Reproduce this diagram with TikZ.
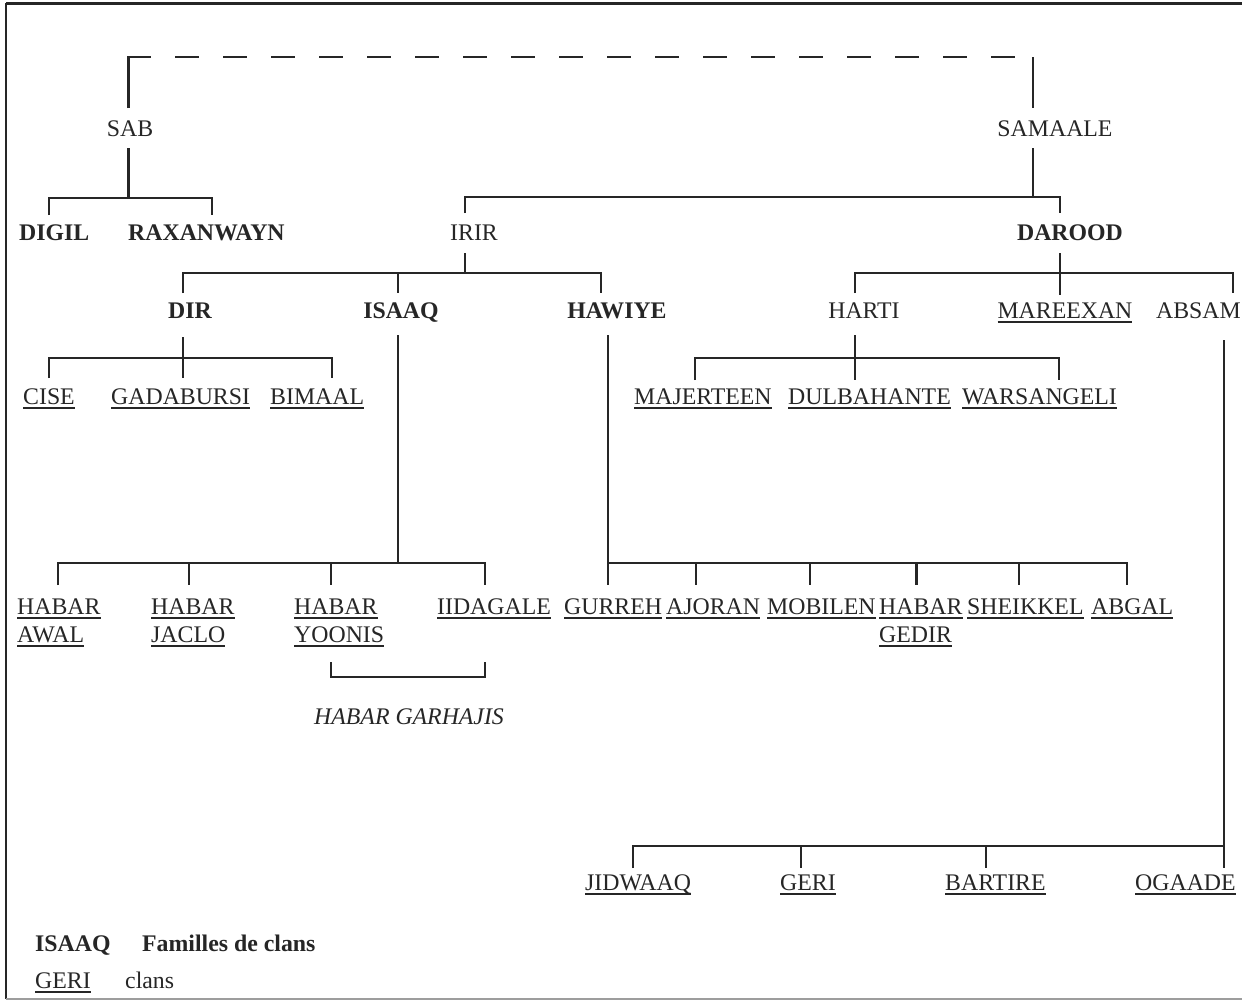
\documentclass[tikz,border=0pt]{standalone}
\usepackage{fontspec}
\setmainfont{Liberation Serif}
\definecolor{ink}{HTML}{262626}
\newcommand{\clanul}[1]{\setbox0\hbox{#1}\rlap{\vrule height -2.6pt depth 4.6pt width \wd0}\box0}
\begin{document}
\begin{tikzpicture}[x=1pt,y=-1pt,
  lbl/.style={inner sep=0pt, text=ink, anchor=base, font=\fontsize{23.8}{28}\selectfont},
  lblw/.style={lbl, anchor=base west},
  lble/.style={lbl, anchor=base east},
  bold/.style={font=\fontsize{23.8}{28}\selectfont\bfseries},
  ital/.style={font=\fontsize{23.8}{28}\selectfont\itshape},
  link/.style={draw=ink, line width=2.3pt},
  dashlink/.style={draw=ink, line width=2.3pt, dash pattern=on 24pt off 24pt},
  frame/.style={draw=ink, line width=2.2pt}]
\useasboundingbox (0,0) rectangle (1242,1002);
\fill[white] (0,0) rectangle (1242,1002);

% frame
\draw[frame, line width=3pt] (6,3) -- (1242,3);
\draw[frame] (6,3) -- (6,999);
\draw[draw=ink!45, line width=1.5pt] (6,999) -- (1242,999);

% ---- labels ----
\node[lbl] (sab) at (130,136) {SAB};
\node[lbl] (samaale) at (1055,136) {SAMAALE};
\node[lblw, bold] (digil) at (19,240) {DIGIL};
\node[lblw, bold] (raxan) at (128,240) {RAXANWAYN};
\node[lbl] (irir) at (474,240) {IRIR};
\node[lbl, bold] (darood) at (1070,240) {DAROOD};
\node[lbl, bold] (dir) at (190,318) {DIR};
\node[lbl, bold] (isaaq) at (401,318) {ISAAQ};
\node[lbl, bold] (hawiye) at (617,318) {HAWIYE};
\node[lbl] (harti) at (864,318) {HARTI};
\node[lbl] (mareexan) at (1065,318) {\clanul{MAREEXAN}};
\node[lble] (absam) at (1241,318) {ABSAM};
\node[lblw] (cise) at (23,404) {\clanul{CISE}};
\node[lblw] (gadab) at (111,404) {\clanul{GADABURSI}};
\node[lblw] (bimaal) at (270,404) {\clanul{BIMAAL}};
\node[lblw] (majer) at (634,404) {\clanul{MAJERTEEN}};
\node[lblw] (dulba) at (788,404) {\clanul{DULBAHANTE}};
\node[lblw] (warsan) at (962,404) {\clanul{WARSANGELI}};

\node[lblw] (hawal) at (17,614) {\clanul{HABAR}};
\node[lblw] (hawal2) at (17,642) {\clanul{AWAL}};
\node[lblw] (hjaclo) at (151,614) {\clanul{HABAR}};
\node[lblw] (hjaclo2) at (151,642) {\clanul{JACLO}};
\node[lblw] (hyoonis) at (294,614) {\clanul{HABAR}};
\node[lblw] (hyoonis2) at (294,642) {\clanul{YOONIS}};
\node[lblw] (iidagale) at (437,614) {\clanul{IIDAGALE}};
\node[lblw, ital] (garhajis) at (314,724) {HABAR GARHAJIS};

\node[lblw] (gurreh) at (564,614) {\clanul{GURREH}};
\node[lblw] (ajoran) at (666,614) {\clanul{AJORAN}};
\node[lblw] (mobilen) at (767,614) {\clanul{MOBILEN}};
\node[lblw] (hgedir) at (879,614) {\clanul{HABAR}};
\node[lblw] (hgedir2) at (879,642) {\clanul{GEDIR}};
\node[lblw] (sheikkel) at (967,614) {\clanul{SHEIKKEL}};
\node[lblw] (abgal) at (1091,614) {\clanul{ABGAL}};

\node[lblw] (jidwaaq) at (585,890) {\clanul{JIDWAAQ}};
\node[lblw] (geri) at (780,890) {\clanul{GERI}};
\node[lblw] (bartire) at (945,890) {\clanul{BARTIRE}};
\node[lblw] (ogaade) at (1135,890) {\clanul{OGAADE}};

\node[lblw, bold] (legA) at (35,951) {ISAAQ};
\node[lblw, bold] (legAt) at (142,951) {Familles de clans};
\node[lblw] (legB) at (35,988) {\clanul{GERI}};
\node[lblw] (legBt) at (125,988) {clans};

% ---- junction coordinates ----
\coordinate (cTop) at (128.5,57);
\coordinate (cDashA) at (175,57);
\coordinate (cDashB) at (1015,57);
\coordinate (sabUp) at (128.5,108);
\coordinate (samUp) at (1033,108);
\coordinate (samTop) at (1033,57);
\coordinate (sabDn) at (128.5,148);
\coordinate (sabBar) at (128.5,198);
\coordinate (samDn) at (1033,148);
\coordinate (samBar) at (1033,197);

% dashed link SAB -- SAMAALE
\draw[link] (sabUp) -- (cTop) -- (151,57);
\draw[dashlink] (cDashA) -- (cDashB);
\draw[link] (samTop) -- (samUp);

% SAB children
\draw[link] (sabDn) -- (sabBar);
\draw[link] (49,215) -- (49,198) -- (212,198) -- (212,215);

% SAMAALE children
\draw[link] (samDn) -- (samBar);
\draw[link] (465,213) -- (465,197) -- (1060,197) -- (1060,213);

% IRIR children
\draw[link] (465,253) -- (465,273);
\draw[link] (183,293) -- (183,273) -- (601,273) -- (601,293);
\draw[link] (398,273) -- (398,293);

% DAROOD children
\draw[link] (1060,253) -- (1060,295);
\draw[link] (855,293) -- (855,273) -- (1233,273) -- (1233,293);

% DIR children
\draw[link] (183,337) -- (183,378);
\draw[link] (49,378) -- (49,358) -- (332,358) -- (332,378);

% HARTI children
\draw[link] (855,335) -- (855,380);
\draw[link] (695,380) -- (695,358) -- (1059,358) -- (1059,380);

% ISAAQ children
\draw[link] (398,335) -- (398,563);
\draw[link] (58,585) -- (58,563) -- (485,563) -- (485,585);
\draw[link] (189,563) -- (189,585);
\draw[link] (331,563) -- (331,585);
\draw[link] (331,662) -- (331,677) -- (485,677) -- (485,662);

% HAWIYE children
\draw[link] (608,335) -- (608,585);
\draw[link] (608,563) -- (1127,563) -- (1127,585);
\foreach \xx in {696,810,916.5,1019} \draw[link] (\xx,563) -- (\xx,585);

% ABSAM children
\draw[link] (1224,340) -- (1224,868);
\draw[link] (633,868) -- (633,846) -- (1224,846);
\draw[link] (801,846) -- (801,868);
\draw[link] (986,846) -- (986,868);
\end{tikzpicture}
\end{document}
